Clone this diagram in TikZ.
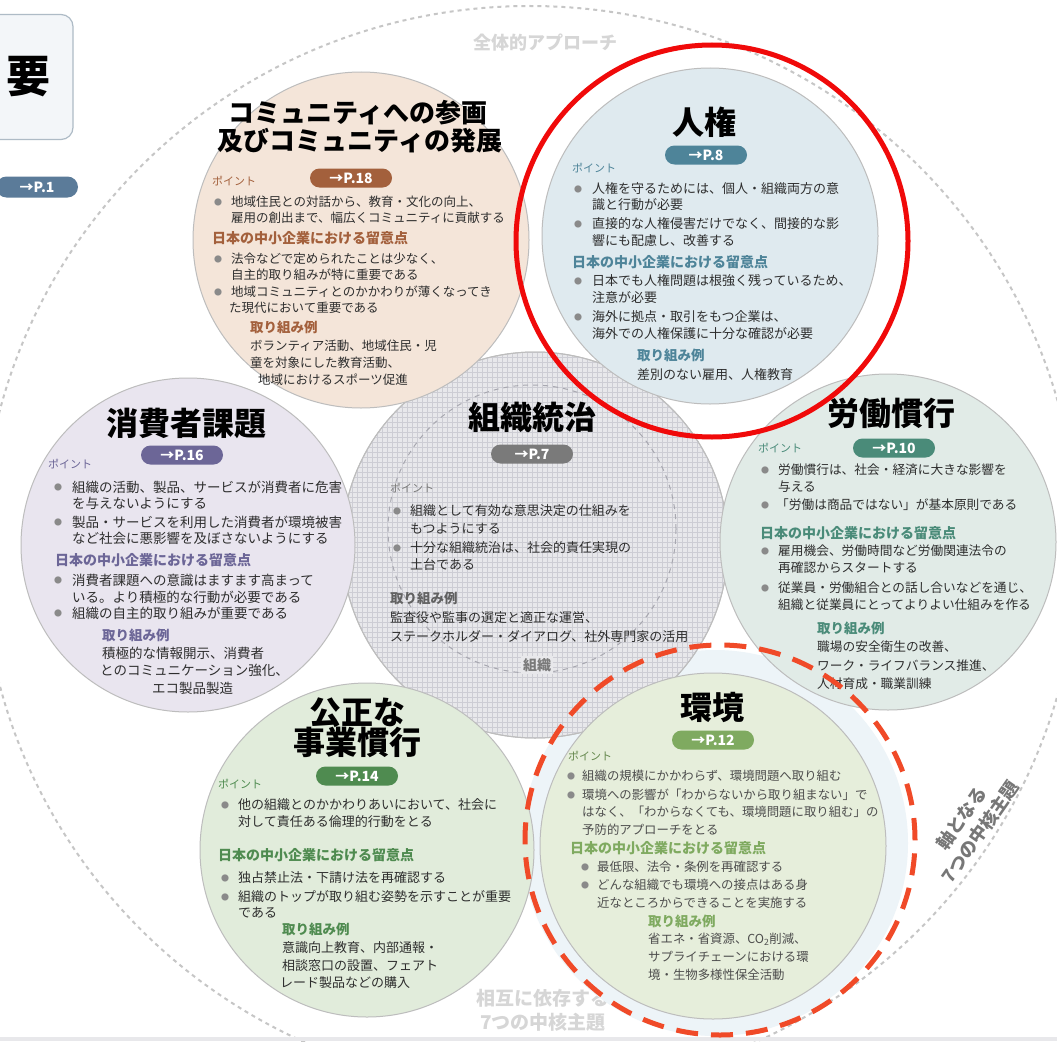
\documentclass[tikz,border=0pt]{standalone}
\usepackage{fontspec}
\setmainfont{Noto Sans CJK JP}
\definecolor{cEdge}{HTML}{BDBDBD}
\definecolor{cText}{HTML}{2E2E2E}
\definecolor{cBul}{HTML}{8A8A8A}
\definecolor{cHdrEdge}{HTML}{AEBBC6}
\definecolor{cHdrFill}{HTML}{F3F6F9}
\definecolor{cComFill}{HTML}{F4E5D9}
\definecolor{cComAcc}{HTML}{A3603C}
\definecolor{cHumFill}{HTML}{DFEAEF}
\definecolor{cHumAcc}{HTML}{4E8499}
\definecolor{cConFill}{HTML}{E9E5EF}
\definecolor{cConAcc}{HTML}{6C6697}
\definecolor{cGovFill}{HTML}{E8E8EB}
\definecolor{cGovGrid}{HTML}{CDCDD4}
\definecolor{cGovAcc}{HTML}{7A7A7A}
\definecolor{cGovDash}{HTML}{A8A8B0}
\definecolor{cLabFill}{HTML}{E1EBE7}
\definecolor{cLabAcc}{HTML}{4A8B79}
\definecolor{cFairFill}{HTML}{E1ECDB}
\definecolor{cFairAcc}{HTML}{4F8B50}
\definecolor{cEnvFill}{HTML}{E6EEDB}
\definecolor{cEnvAcc}{HTML}{7FAA60}
\definecolor{cHalo}{HTML}{EDF4F8}
\definecolor{cRing}{HTML}{F00A0A}
\definecolor{cDashRing}{HTML}{F04A28}
\definecolor{cOuter}{HTML}{C6C6C6}
\definecolor{cFaint}{HTML}{D6D6D6}
\definecolor{cAxis}{HTML}{777777}
\definecolor{cP1}{HTML}{5B7B99}
\newcounter{tl}
\newcommand\Ln[3]{\stepcounter{tl}\node[txt,anchor=west] (ln\arabic{tl}) at (#1,#2) {#3};}
\newcommand\Bu[2]{\stepcounter{tl}\node[bul] (bu\arabic{tl}) at (#1,#2) {●};}
\tikzset{
  topic/.style={circle, draw=cEdge, line width=1pt, inner sep=0pt},
  ttl/.style={font=\bfseries\fontsize{32}{34}\selectfont, text=black, inner sep=0pt},
  pill/.style={rounded corners=9.5pt, minimum width=82pt, minimum height=19pt, inner sep=0pt, text=white, font=\bfseries\fontsize{14}{15}\selectfont},
  ptl/.style={anchor=west, inner sep=0pt, font=\fontsize{11}{12}\selectfont},
  lbl/.style={anchor=west, inner sep=0pt, font=\bfseries\fontsize{14}{15}\selectfont},
  exl/.style={anchor=west, inner sep=0pt, font=\bfseries\fontsize{13.5}{15}\selectfont},
  txt/.style={inner sep=0pt, text=cText, font=\fontsize{13}{14}\selectfont},
  bul/.style={inner sep=0pt, text=cBul, font=\fontsize{8}{9}\selectfont},
}
\begin{document}
\begin{tikzpicture}[x=1pt,y=-1pt]
\useasboundingbox (0,0) rectangle (1057,1041);
\clip (0,0) rectangle (1057,1041);
\fill[white] (0,0) rectangle (1057,1041);
% outer dotted circle
\draw[cOuter, line width=2pt, dash pattern=on 4pt off 4pt] (530,548) ellipse [x radius=548, y radius=542];
% header box
\node[draw=cHdrEdge, fill=cHdrFill, line width=1.2pt, rounded corners=12pt, minimum width=120pt, minimum height=125pt, inner sep=0pt] (hdr) at (13,77) {};
\node[font=\bfseries\fontsize{44}{46}\selectfont, inner sep=0pt] (hdrT) at (28,77) {要};
\node[pill, fill=cP1, minimum width=82pt, minimum height=21pt, rounded corners=10.5pt] (p1) at (37,187) {→P.1};
% outer texts
\node[font=\bfseries\fontsize{18}{20}\selectfont, text=cFaint, inner sep=0pt] (tAll) at (545,43) {全体的アプローチ};
\node[font=\bfseries\fontsize{19}{24}\selectfont, text=cFaint, align=center, inner sep=0pt] (tMut) at (543,1010) {相互に依存する\\7つの中核主題};
\node[font=\bfseries\fontsize{18}{23}\selectfont, text=cAxis, align=center, inner sep=0pt, rotate=55] (tAxis) at (971,825) {軸となる\\7つの中核主題};
\fill[cGovFill] (0,1037) rectangle (1057,1041);
% halo of environment
\node[circle, fill=cHalo, inner sep=0pt, minimum size=386pt] (envH) at (715,843) {};
% governance
\node[topic, fill=cGovFill, minimum size=386pt] (gov) at (535,545) {};
\begin{scope}
\path[clip] (gov.center) circle[radius=193pt];
\foreach \i in {0,...,78} {
  \draw[cGovGrid, line width=0.45pt] (342+\i*5,352) -- (342+\i*5,738);
  \draw[cGovGrid, line width=0.45pt] (342,352+\i*5) -- (728,352+\i*5);
}
\end{scope}
\draw[cEdge, line width=1pt] (gov.center) circle[radius=193pt];
\node[circle, draw=cGovDash, dash pattern=on 5pt off 5pt, line width=1pt, minimum size=288pt, inner sep=0pt] (govIn) at (532,529) {};
% other topic circles
\node[topic, fill=cComFill, minimum size=336pt] (com) at (361,240) {};
\node[topic, fill=cHumFill, minimum size=336pt] (hum) at (710,236) {};
\node[topic, fill=cConFill, minimum size=334pt] (con) at (188,545) {};
\node[topic, fill=cLabFill, minimum size=336pt] (lab) at (888,542) {};
\node[topic, fill=cFairFill, minimum size=334pt] (fair) at (367,850) {};
\node[topic, fill=cEnvFill, minimum size=346pt] (env) at (713,846) {};

% ===== community
\begin{scope}[txt/.append style={font=\fontsize{12.5}{14}\selectfont}]
\node[ttl, font=\bfseries\fontsize{26}{28}\selectfont] (comT1) at (358,113) {コミュニティへの参画};
\node[ttl, font=\bfseries\fontsize{26}{28}\selectfont] (comT2) at (360,141) {及びコミュニティの発展};
\node[pill, fill=cComAcc] (comP) at (351,178) {→P.18};
\node[ptl, text=cComAcc] (comPt) at (212,181) {ポイント};
\Bu{218}{202}\Ln{231}{202}{地域住民との対話から、教育・文化の向上、}
\Ln{231}{218}{雇用の創出まで、幅広くコミュニティに貢献する}
\node[lbl, text=cComAcc] (comL) at (212,238) {日本の中小企業における留意点};
\Bu{218}{259}\Ln{231}{259}{法令などで定められたことは少なく、}
\Ln{231}{275}{自主的取り組みが特に重要である}
\Bu{218}{292}\Ln{231}{292}{地域コミュニティとのかかわりが薄くなってき}
\Ln{229}{308}{た現代において重要である}
\node[exl, text=cComAcc] (comE) at (250,327) {取り組み例};
\Ln{250}{346}{ボランティア活動、地域住民・児}
\Ln{250}{363}{童を対象にした教育活動、}
\Ln{258}{380}{地域におけるスポーツ促進}
\end{scope}

% ===== human rights
\begin{scope}[txt/.append style={font=\fontsize{13}{14}\selectfont}]
\node[ttl] (humT) at (704,122) {人権};
\node[pill, fill=cHumAcc] (humP) at (706,155) {→P.8};
\node[ptl, text=cHumAcc] (humPt) at (572,168) {ポイント};
\Bu{578}{189}\Ln{592}{189}{人権を守るためには、個人・組織両方の意}
\Ln{592}{205}{識と行動が必要}
\Bu{578}{224}\Ln{592}{224}{直接的な人権侵害だけでなく、間接的な影}
\Ln{592}{241}{響にも配慮し、改善する}
\node[lbl, text=cHumAcc] (humL) at (572,262) {日本の中小企業における留意点};
\Bu{578}{281}\Ln{592}{281}{日本でも人権問題は根強く残っているため、}
\Ln{592}{298}{注意が必要}
\Bu{578}{317}\Ln{592}{317}{海外に拠点・取引をもつ企業は、}
\Ln{592}{334}{海外での人権保護に十分な確認が必要}
\node[exl, text=cHumAcc] (humE) at (637,355) {取り組み例};
\Ln{637}{375}{差別のない雇用、人権教育}
\end{scope}

% ===== consumer
\begin{scope}[txt/.append style={font=\fontsize{13.5}{15}\selectfont}]
\node[ttl] (conT) at (186,423) {消費者課題};
\node[pill, fill=cConAcc] (conP) at (182,455) {→P.16};
\node[ptl, text=cConAcc] (conPt) at (48,464) {ポイント};
\Bu{58}{487}\Ln{72}{487}{組織の活動、製品、サービスが消費者に危害}
\Ln{72}{503}{を与えないようにする}
\Bu{58}{522}\Ln{72}{522}{製品・サービスを利用した消費者が環境被害}
\Ln{72}{538}{など社会に悪影響を及ぼさないようにする}
\node[lbl, text=cConAcc] (conL) at (55,560) {日本の中小企業における留意点};
\Bu{58}{580}\Ln{72}{580}{消費者課題への意識はますます高まって}
\Ln{72}{597}{いる。より積極的な行動が必要である}
\Bu{58}{613}\Ln{72}{613}{組織の自主的取り組みが重要である}
\node[exl, text=cConAcc] (conE) at (102,635) {取り組み例};
\Ln{102}{653}{積極的な情報開示、消費者}
\Ln{100}{670}{とのコミュニケーション強化、}
\Ln{152}{688}{エコ製品製造}
\end{scope}

% ===== governance
\begin{scope}[txt/.append style={font=\fontsize{13}{14}\selectfont}]
\node[ttl] (govT) at (532,417) {組織統治};
\node[pill, fill=cGovAcc] (govP) at (532,454) {→P.7};
\node[ptl, text=cGovAcc] (govPt) at (390,488) {ポイント};
\Bu{397}{511}\Ln{410}{511}{組織として有効な意思決定の仕組みを}
\Ln{410}{529}{もつようにする}
\Bu{397}{548}\Ln{410}{548}{十分な組織統治は、社会的責任実現の}
\Ln{410}{565}{土台である}
\node[exl, text=cGovAcc!80!black] (govE) at (390,598) {取り組み例};
\Ln{390}{618}{監査役や監事の選定と適正な運営、}
\Ln{390}{637}{ステークホルダー・ダイアログ、社外専門家の活用}
\node[fill=cGovFill, inner sep=2pt, text=cGovAcc, font=\bfseries\fontsize{14}{15}\selectfont] (govB) at (537,665) {組織};
\end{scope}

% ===== labour
\begin{scope}[txt/.append style={font=\fontsize{12.7}{14}\selectfont}]
\node[ttl] (labT) at (891,413) {労働慣行};
\node[pill, fill=cLabAcc] (labP) at (894,448) {→P.10};
\node[ptl, text=cLabAcc] (labPt) at (758,448) {ポイント};
\Bu{765}{470}\Ln{778}{470}{労働慣行は、社会・経済に大きな影響を}
\Ln{778}{487}{与える}
\Bu{765}{505}\Ln{776}{505}{「労働は商品ではない」が基本原則である}
\node[lbl, text=cLabAcc] (labL) at (760,533) {日本の中小企業における留意点};
\Bu{765}{551}\Ln{778}{551}{雇用機会、労働時間など労働関連法令の}
\Ln{778}{568}{再確認からスタートする}
\Bu{765}{588}\Ln{778}{588}{従業員・労働組合との話し合いなどを通じ、}
\Ln{778}{605}{組織と従業員にとってよりよい仕組みを作る}
\node[exl, text=cLabAcc] (labE) at (817,628) {取り組み例};
\Ln{817}{647}{職場の安全衛生の改善、}
\Ln{817}{666}{ワーク・ライフバランス推進、}
\Ln{817}{684}{人材育成・職業訓練}
\end{scope}

% ===== fair operating practices
\begin{scope}[txt/.append style={font=\fontsize{13}{14}\selectfont}]
\node[ttl] (fairT1) at (357,713) {公正な};
\node[ttl] (fairT2) at (357,742) {事業慣行};
\node[pill, fill=cFairAcc] (fairP) at (357,776) {→P.14};
\node[ptl, text=cFairAcc] (fairPt) at (218,784) {ポイント};
\Bu{225}{805}\Ln{238}{805}{他の組織とのかかわりあいにおいて、社会に}
\Ln{238}{822}{対して責任ある倫理的行動をとる}
\node[lbl, text=cFairAcc] (fairL) at (218,855) {日本の中小企業における留意点};
\Bu{225}{878}\Ln{238}{878}{独占禁止法・下請け法を再確認する}
\Bu{225}{897}\Ln{238}{897}{組織のトップが取り組む姿勢を示すことが重要}
\Ln{238}{913}{である}
\node[exl, text=cFairAcc] (fairE) at (282,929) {取り組み例};
\Ln{282}{948}{意識向上教育、内部通報・}
\Ln{282}{966}{相談窓口の設置、フェアト}
\Ln{280}{983}{レード製品などの購入}
\end{scope}

% ===== environment
\begin{scope}[txt/.append style={font=\fontsize{12.4}{14}\selectfont, text=cText!85!white}]
\node[ttl] (envT) at (712,707) {環境};
\node[pill, fill=cEnvAcc] (envP) at (713,740) {→P.12};
\node[ptl, text=cEnvAcc!80!black] (envPt) at (568,756) {ポイント};
\Bu{571}{776}\Ln{582}{776}{組織の規模にかかわらず、環境問題へ取り組む}
\Bu{571}{795}\Ln{582}{795}{環境への影響が「わからないから取り組まない」で}
\Ln{582}{812}{はなく、「わからなくても、環境問題に取り組む」の}
\Ln{582}{830}{予防的アプローチをとる}
\node[lbl, text=cEnvAcc] (envL) at (570,848) {日本の中小企業における留意点};
\Bu{585}{867}\Ln{597}{867}{最低限、法令・条例を再確認する}
\Bu{585}{885}\Ln{597}{885}{どんな組織でも環境への接点はある身}
\Ln{597}{903}{近なところからできることを実施する}
\node[exl, text=cEnvAcc] (envE) at (648,921) {取り組み例};
\Ln{648}{939}{省エネ・省資源、CO\textsubscript{2}削減、}
\Ln{648}{957}{サプライチェーンにおける環}
\Ln{648}{975}{境・生物多様性保全活動}
\end{scope}

% ===== highlight rings
\node[circle, draw=cRing, line width=5pt, inner sep=0pt, minimum size=392pt] (humR) at (712,241) {};
\node[circle, draw=cDashRing, line width=5pt, dash pattern=on 22pt off 13pt, inner sep=0pt, minimum size=390pt] (envR) at (720,840) {};
\end{tikzpicture}
\end{document}
